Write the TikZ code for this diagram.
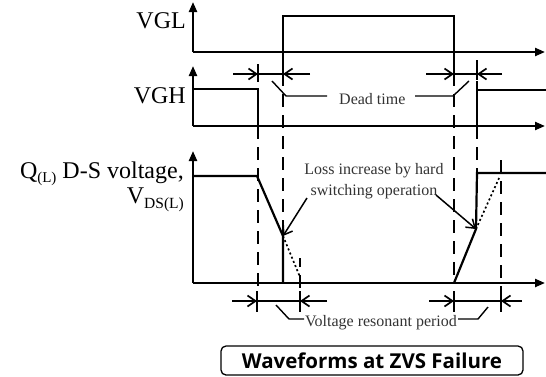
\documentclass[tikz,border=0pt]{standalone}
\usepackage{fontspec}
\setmainfont{Liberation Serif}
\newfontfamily\boxfont{Open Sans}
\usetikzlibrary{arrows.meta}
\begin{document}
\begin{tikzpicture}[x=1pt,y=-1pt,
  axis/.style={line width=2.2pt,-{Triangle[length=10pt,width=8pt]}},
  wave/.style={line width=2.2pt},
  dline/.style={line width=2.2pt,dash pattern=on 13pt off 8pt},
  dotl/.style={line width=1.7pt,dash pattern=on 2pt off 2.5pt},
  dim/.style={line width=1.7pt},
  barb/.style={line width=1.7pt,-{Straight Barb[length=8pt,width=11pt]}},
  lead/.style={line width=1.4pt},
  lbl/.style={inner sep=0pt,font=\fontsize{24}{26}\selectfont},
  note/.style={inner sep=0pt,font=\fontsize{16}{18}\selectfont,text=black!80},
  titlebox/.style={draw,rounded corners=5pt,line width=1.3pt,minimum width=302pt,minimum height=29pt,inner sep=0pt,
    font=\boxfont\bfseries\fontsize{20.5}{22}\selectfont}
]
\useasboundingbox (0,0) rectangle (546,376);

% axes
\coordinate (o1) at (193,52);  \coordinate (t1) at (193,2);   \coordinate (r1) at (545,52);
\coordinate (o2) at (193,126); \coordinate (t2) at (193,66);  \coordinate (r2) at (545,126);
\coordinate (o3) at (193,283); \coordinate (t3) at (193,151); \coordinate (r3) at (545,283);
\draw[axis] (o1) -- (t1); \draw[axis] (o1) -- (r1);
\draw[axis] (o2) -- (t2); \draw[axis] (o2) -- (r2);
\draw[axis] (o3) -- (t3); \draw[axis] (o3) -- (r3);

% labels
\node[lbl,anchor=base east] (vgl) at (186,28) {VGL};
\node[lbl,anchor=base east] (vgh) at (186,103) {VGH};
\node[lbl,anchor=base east] (q) at (184,178) {Q\raisebox{-4pt}{\fontsize{15}{15}\selectfont(L)} D-S voltage,};
\node[lbl,anchor=base east] (vds) at (184,203) {V\raisebox{-5pt}{\fontsize{15.5}{15}\selectfont DS(L)}};

% VGL waveform
\draw[wave] (283,52) -- (283,16) -- (454,16) -- (454,52);
% VGH waveform
\draw[wave] (193,89) -- (258,89) -- (258,126);
\draw[wave] (477,126) -- (477,90) -- (546,90);
% VDS waveform
\coordinate (fa) at (257,176);
\coordinate (fb) at (283,236);
\coordinate (ra) at (454,283);
\coordinate (rb) at (476,229);
\draw[wave] (193,176) -- (fa) -- (fb) -- (283,283);
\draw[wave] (ra) -- (rb) -- (477,173) -- (546,173);
\draw[dotl] (fb) -- (300,277);
\draw[dotl] (rb) -- (500,176);

% dashed guide lines
\draw[dline] (258,126) -- (258,292);
\draw[dline] (283,52) -- (283,236);
\draw[dline,dash phase=4pt] (300,258) -- (300,292);
\draw[dline] (454,52) -- (454,283);
\draw[dline] (477,60) -- (477,90);
\draw[dline] (477,126) -- (477,173);
\draw[dline] (501,160) -- (501,292);

% dead time dimensions
\draw[wave] (258,64) -- (258,82);
\draw[wave] (283,62) -- (283,80);
\draw[wave] (454,64) -- (454,82);
\draw[wave] (477,62) -- (477,80);
\draw[dim] (258,74) -- (283,74);
\draw[barb] (233,74) -- (258,74);
\draw[barb] (310,74) -- (283,74);
\draw[dim] (454,74) -- (477,74);
\draw[barb] (426,74) -- (454,74);
\draw[barb] (502,74) -- (477,74);

\node[note,anchor=base west] (dt) at (339,104) {Dead time};
\draw[lead] (272,81) -- (286,96) -- (327,96);
\draw[lead] (415,96) -- (453,96) -- (469,81);

% loss annotation
\node[note,anchor=base] (loss1) at (374,174) {Loss increase by hard};
\node[note,anchor=base] (loss2) at (374,195) {switching operation};
\draw[barb,line width=1.5pt] (307,198) -- (fb);
\draw[barb,line width=1.5pt] (436,195) -- (rb);

% voltage resonant period
\draw[wave] (257,291) -- (257,312);
\draw[wave] (300,291) -- (300,312);
\draw[wave] (454,291) -- (454,312);
\draw[wave] (501,291) -- (501,312);
\draw[dim] (257,301) -- (300,301);
\draw[barb] (232,301) -- (257,301);
\draw[barb] (327,301) -- (300,301);
\draw[dim] (454,301) -- (501,301);
\draw[barb] (429,301) -- (454,301);
\draw[barb] (522,301) -- (501,301);
\node[note,anchor=base west] (vrp) at (305,326) {Voltage resonant period};
\draw[lead] (276,305) -- (289,319) -- ([xshift=-1pt]vrp.west |- 0,319);
\draw[lead] ([xshift=1pt]vrp.east |- 0,319) -- (478,319) -- (488,307);

% title box
\node[titlebox] (title) at (372,360.5) {Waveforms at ZVS Failure};
\end{tikzpicture}
\end{document}
